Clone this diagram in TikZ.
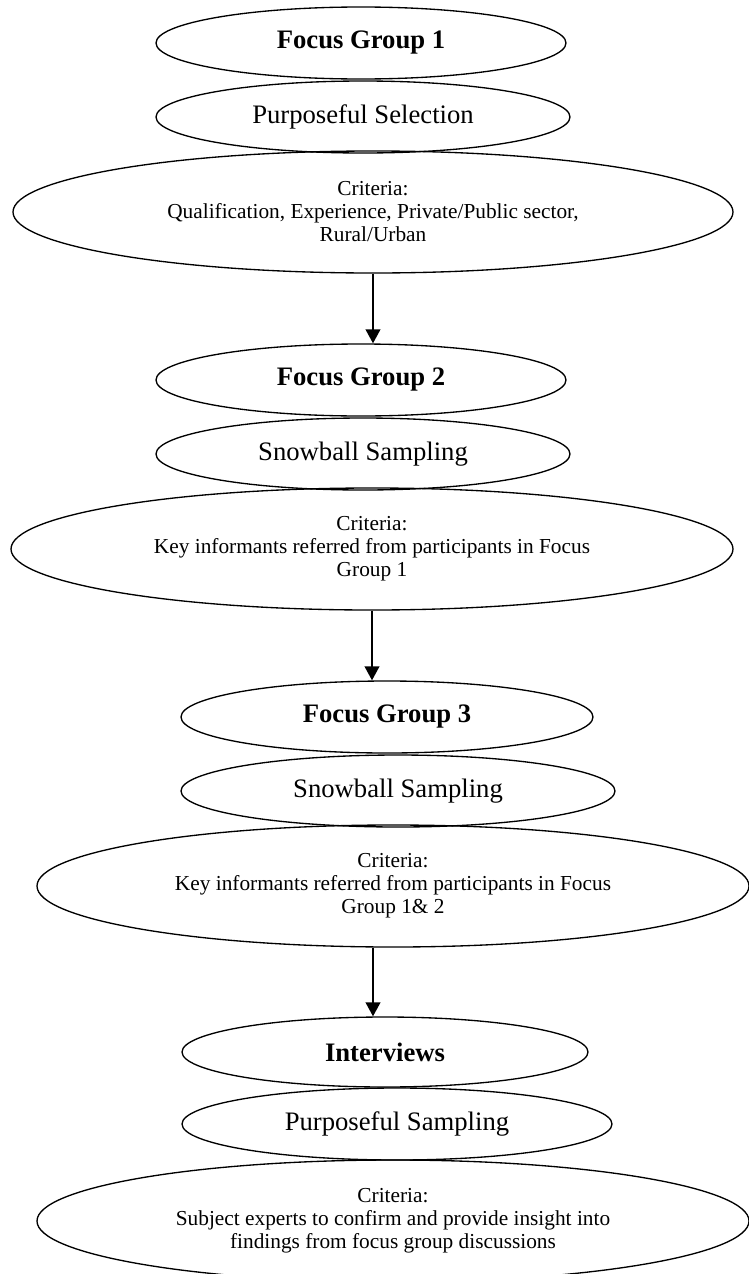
\documentclass[tikz,border=0pt]{standalone}
\usepackage{fontspec}
\setmainfont{Liberation Serif}
\usetikzlibrary{arrows.meta,shapes.geometric,positioning,calc}

\begin{document}
\begin{tikzpicture}[x=0.75pt,y=-0.75pt,
	oval/.style 2 args={draw, ellipse, line width=1pt, inner sep=0pt, minimum width=#1*0.75pt, minimum height=#2*0.75pt},
	title/.style={font=\fontsize{20}{24}\selectfont\bfseries},
	method/.style={font=\fontsize{20}{24}\selectfont},
	crit/.style={font=\fontsize{16}{17.25}\selectfont, align=center},
	flow/.style={line width=1.5pt, -{Triangle[width=11pt,length=10.5pt]}}]
			% Page frame
			\clip (0,0) rectangle (749,1274);
			
			% Focus group 1
			\node[oval={410}{72}, title] (fgA) at (361,43) {Focus Group 1};
			\node[oval={414}{72}, method] (selA) at (363,117) {Purposeful Selection};
			\node[oval={720}{122}, crit] (critA) at (373,212) {Criteria:\\Qualification, Experience, Private/Public sector,\\Rural/Urban};
			
			% Focus group 2
			\node[oval={410}{72}, title] (fgB) at (361,380) {Focus Group 2};
			\node[oval={414}{72}, method] (selB) at (363,454) {Snowball Sampling};
			\node[oval={722}{122}, crit] (critB) at (372,549) {Criteria:\\Key informants referred from participants in Focus\\Group 1};
			
			% Focus group 3
			\node[oval={412}{72}, title] (fgC) at (387,717) {Focus Group 3};
			\node[oval={434}{72}, method] (selC) at (398,791) {Snowball Sampling};
			\node[oval={712}{122}, crit] (critC) at (393,886) {Criteria:\\Key informants referred from participants in Focus\\Group 1\& 2};
			
			% Interviews
			\node[oval={406}{70}, title] (fgD) at (385,1052) {Interviews};
			\node[oval={430}{72}, method] (selD) at (397,1124) {Purposeful Sampling};
			\node[oval={712}{122}, crit] (critD) at (393,1221) {Criteria:\\Subject experts to confirm and provide insight into\\findings from focus group discussions};
			
			% Arrows between the stages
			\draw[flow] (critA.south) -- (critA.south |- fgB.north);
			\draw[flow] (critB.south) -- (critB.south |- fgC.north);
			\draw[flow] (critC.south -| critA.south) -- (critA.south |- fgD.north);
		\end{tikzpicture}
\end{document}
